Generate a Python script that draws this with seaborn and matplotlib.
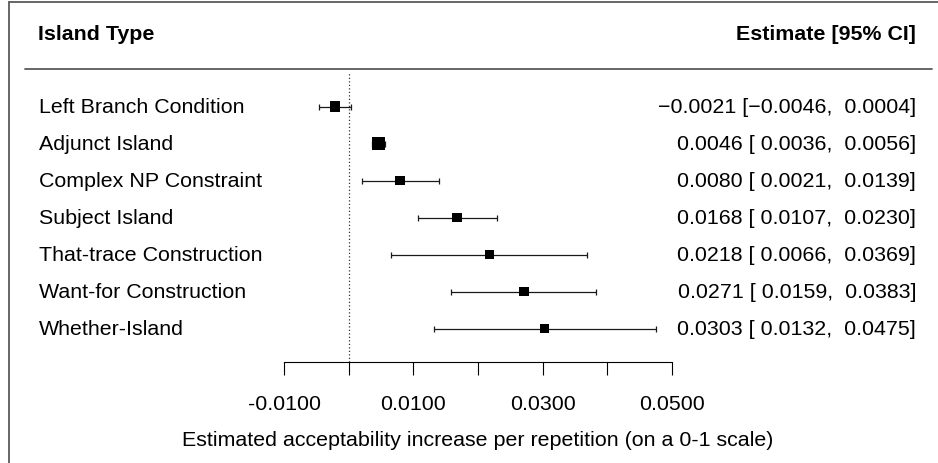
import numpy as np
import pandas as pd
import matplotlib
matplotlib.use("Agg")
import matplotlib.pyplot as plt
from matplotlib.lines import Line2D
from matplotlib.transforms import blended_transform_factory
import seaborn as sns

# Per-island repetition effects with 95% confidence intervals
islands = ["Left Branch Condition", "Adjunct Island", "Complex NP Constraint",
           "Subject Island", "That-trace Construction", "Want-for Construction",
           "Whether-Island"]
estimate = [-0.0021, 0.0046, 0.0080, 0.0168, 0.0218, 0.0271, 0.0303]
ci_lower = [-0.0046, 0.0036, 0.0021, 0.0107, 0.0066, 0.0159, 0.0132]
ci_upper = [0.0004, 0.0056, 0.0139, 0.0230, 0.0369, 0.0383, 0.0475]
tick_values = [-0.01, 0.0, 0.01, 0.02, 0.03, 0.04, 0.05]
tick_labels = ["-0.0100", "", "0.0100", "", "0.0300", "", "0.0500"]

sns.set_theme(style="white")
plt.rcParams["font.family"] = ["Liberation Sans", "DejaVu Sans"]

W, H = 938, 464
FS = 15.4
fig = plt.figure(figsize=(W / 100, H / 100), dpi=100)
fig.patch.set_facecolor("white")


def fx(px):
    return px / W


def fy(py):
    return 1 - py / H


# panel geometry in pixels
x0, x1 = 284, 672
ytop, ybot = 74, 363
row0, row_step = 107.5, 37.0

ax = fig.add_axes([fx(x0), fy(ybot), fx(x1 - x0), (ybot - ytop) / H])

df = pd.DataFrame({
    "island": islands,
    "estimate": estimate,
    "lower": ci_lower,
    "upper": ci_upper,
})
df["row"] = np.arange(len(df))
df["weight"] = 1.0 / (df["upper"] - df["lower"])

# confidence intervals with small end caps
ax.errorbar(df["estimate"], df["row"],
            xerr=[df["estimate"] - df["lower"], df["upper"] - df["estimate"]],
            fmt="none", ecolor="#1a1a1a", elinewidth=0.9, capsize=2.0,
            capthick=0.9, zorder=2)

# point estimates, square size scaled by precision
side_min, side_max = 9.5 * 0.72, 12.5 * 0.72
sns.scatterplot(data=df, x="estimate", y="row", size="weight",
                sizes=(side_min ** 2, side_max ** 2), marker="s",
                color="black", edgecolor="black", linewidth=0,
                legend=False, ax=ax, zorder=3)

# reference line at zero
ax.axvline(0, color="#333333", linestyle=(0, (1, 1.8)), linewidth=0.9, zorder=1)

ax.set_xlim(-0.01, 0.05)
ax.set_ylim((ybot - row0) / row_step, (ytop - row0) / row_step)
ax.set_facecolor("none")
for side in ["left", "top", "right"]:
    ax.spines[side].set_visible(False)
ax.spines["bottom"].set_bounds(-0.01, 0.05)
ax.spines["bottom"].set_color("black")
ax.spines["bottom"].set_linewidth(0.8)
ax.set_yticks([])
ax.set_xticks(tick_values, tick_labels)
ax.tick_params(axis="x", bottom=True, direction="out", length=13 * 0.72,
               width=0.8, color="black", pad=13.5, labelsize=FS,
               labelcolor="black")
ax.set_xlabel("")
ax.set_ylabel("")

# row labels and numeric annotations
row_tr = blended_transform_factory(fig.transFigure, ax.transData)


def fmt(v):
    return f"{v: .4f}".replace("-", "\u2212")


for _, r in df.iterrows():
    ax.text(fx(39), r["row"], r["island"], transform=row_tr, ha="left",
            va="center", fontsize=FS, color="black")
    annot = f"{fmt(r['estimate'])} [{fmt(r['lower'])}, {fmt(r['upper'])}]"
    ax.text(fx(916), r["row"], annot, transform=row_tr, ha="right",
            va="center", fontsize=FS, color="black")

# column headers
fig.text(fx(38), fy(34), "Island Type", ha="left", va="center",
         fontsize=FS, fontweight="bold", color="black")
fig.text(fx(916), fy(34), "Estimate [95% CI]", ha="right", va="center",
         fontsize=FS, fontweight="bold", color="black")

# axis title
fig.text(fx((x0 + x1) / 2), fy(441),
         "Estimated acceptability increase per repetition (on a 0-1 scale)",
         ha="center", va="center", fontsize=FS, color="black")

# header rule and outer frame
fig.add_artist(Line2D([fx(25), fx(932)], [fy(70), fy(70)],
                      transform=fig.transFigure, color="#5a5a5a", linewidth=1.3))
fig.add_artist(Line2D([fx(8.5), fx(8.5)], [fy(3), fy(464)],
                      transform=fig.transFigure, color="#5a5a5a", linewidth=1.3))
fig.add_artist(Line2D([fx(8.5), fx(938)], [fy(3), fy(3)],
                      transform=fig.transFigure, color="#5a5a5a", linewidth=1.3))

fig.savefig("out.png", dpi=100, facecolor="white")
